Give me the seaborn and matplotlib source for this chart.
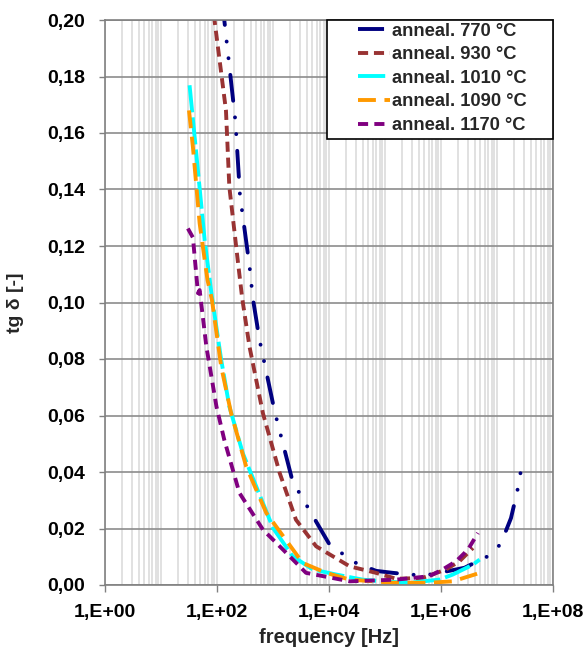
import numpy as np
import pandas as pd
import matplotlib
matplotlib.use("Agg")
import matplotlib.pyplot as plt
import seaborn as sns
from matplotlib.patches import Rectangle
from matplotlib.ticker import FixedLocator, FuncFormatter, LogLocator, NullFormatter

# log10(frequency) and tg delta for each annealing temperature
lf_770 = [2.05, 2.13, 2.33, 2.41, 2.58, 2.64, 2.76, 3.03, 3.35, 4.01, 4.46, 4.84, 5.14, 5.44, 5.71, 5.97, 6.42, 6.90, 7.07, 7.25, 7.31, 7.37, 7.46]
tg_770 = [0.215, 0.200, 0.164, 0.138, 0.113, 0.1015, 0.0867, 0.0614, 0.0367, 0.0143, 0.0080, 0.0050, 0.0043, 0.0037, 0.0034, 0.0043, 0.0061, 0.0108, 0.0147, 0.0237, 0.0288, 0.0340, 0.0443]

lf_930 = [1.90, 1.955, 2.16, 2.22, 2.37, 2.45, 2.58, 2.82, 3.12, 3.41, 3.77, 4.37, 4.84, 5.20, 5.67, 6.09, 6.33, 6.57]
tg_930 = [0.215, 0.200, 0.168, 0.141, 0.115, 0.1015, 0.0844, 0.0608, 0.0396, 0.0231, 0.0137, 0.0066, 0.0043, 0.0022, 0.0025, 0.0055, 0.0084, 0.0131]

lf_1010 = [1.51, 1.63, 1.78, 1.90, 2.075, 2.22, 2.46, 2.70, 3.00, 3.35, 3.71, 4.13, 4.60, 5.00, 5.44, 5.97, 6.21, 6.57, 6.69]
tg_1010 = [0.1769, 0.1527, 0.122, 0.1033, 0.0797, 0.0632, 0.0467, 0.0349, 0.0202, 0.0102, 0.0055, 0.0037, 0.0019, 0.0012, 0.0008, 0.0019, 0.0037, 0.0072, 0.0090]

lf_1090 = [1.50, 1.57, 1.69, 1.83, 1.91, 2.075, 2.25, 2.52, 2.88, 3.53, 3.95, 4.37, 5.14, 5.79, 6.21, 6.60, 6.69]
tg_1090 = [0.168, 0.155, 0.128, 0.108, 0.1009, 0.0773, 0.061, 0.042, 0.0255, 0.0078, 0.0043, 0.0019, 0.0008, 0.0008, 0.0013, 0.0037, 0.0043]

lf_1170 = [1.48, 1.57, 1.66, 1.69, 1.81, 1.99, 2.13, 2.40, 2.82, 3.18, 3.59, 4.37, 5.20, 5.79, 6.03, 6.27, 6.48, 6.66]
tg_1170 = [0.1262, 0.123, 0.1033, 0.1044, 0.0844, 0.0632, 0.0514, 0.0326, 0.0196, 0.0125, 0.0043, 0.0013, 0.0019, 0.0031, 0.0055, 0.0084, 0.0125, 0.0184]

labels = ["anneal. 770 °C", "anneal. 930 °C", "anneal. 1010 °C", "anneal. 1090 °C", "anneal. 1170 °C"]
series = [(lf_770, tg_770), (lf_930, tg_930), (lf_1010, tg_1010), (lf_1090, tg_1090), (lf_1170, tg_1170)]
colors = ["#000080", "#993333", "#00FFFF", "#FF9900", "#800080"]
dashes = [(6.7, 4.3, 0.01, 4.3, 0.01, 4.3), (2.6, 1.5), (7.0, 1.3), (4.6, 2.2), (2.6, 1.6)]

frames = []
for lab, (lf, tg) in zip(labels, series):
    frames.append(pd.DataFrame({"freq": 10.0 ** np.array(lf), "tg": tg, "series": lab}))
df = pd.concat(frames, ignore_index=True)

sns.set_style("white")
plt.rcParams["font.family"] = ["Liberation Sans", "DejaVu Sans"]
plt.rcParams["font.weight"] = "bold"

fig = plt.figure(figsize=(5.87, 6.53), dpi=100)
ax = fig.add_axes([105 / 587, 68 / 653, (553 - 105) / 587, (585 - 20) / 653])

sns.lineplot(data=df, x="freq", y="tg", hue="series", style="series",
             hue_order=labels, style_order=labels,
             palette=dict(zip(labels, colors)), dashes=dict(zip(labels, dashes)),
             linewidth=2.8, sort=False, estimator=None, ax=ax, legend=True)

# dash-dot-dot curve gets rounded caps so its dots show as dots
ax.get_lines()[0].set_dash_capstyle("round")

ax.set_xscale("log")
ax.set_xlim(1, 1e8)
ax.set_ylim(0, 0.2)

ax.xaxis.set_major_locator(FixedLocator([1, 1e2, 1e4, 1e6, 1e8]))
ax.xaxis.set_minor_locator(LogLocator(base=10, subs=np.arange(1, 10), numticks=100))
ax.xaxis.set_minor_formatter(NullFormatter())
ax.xaxis.set_major_formatter(FuncFormatter(lambda v, p: "1,E+%02d" % int(round(np.log10(v)))))
ax.yaxis.set_major_locator(FixedLocator(np.arange(0, 0.2001, 0.02)))
ax.yaxis.set_major_formatter(FuncFormatter(lambda v, p: ("%.2f" % v).replace(".", ",")))

ax.grid(which="minor", axis="x", color="#D9D9D9", linewidth=1.1)
ax.grid(which="major", axis="x", color="#D9D9D9", linewidth=1.1)
ax.grid(which="major", axis="y", color="#8C8C8C", linewidth=1.2)
ax.set_axisbelow(True)

ax.tick_params(axis="x", which="major", direction="out", length=5, width=1, color="#808080",
               labelsize=14, pad=8.5, labelcolor="black")
ax.tick_params(axis="x", which="minor", length=0)
ax.tick_params(axis="y", which="major", direction="out", length=4.3, width=1, color="#808080",
               labelsize=14, pad=10, labelcolor="black")
ax.tick_params(left=True, bottom=True)
for lab in ax.get_xticklabels() + ax.get_yticklabels():
    lab.set_fontweight("bold")

for side in ["top", "right", "left", "bottom"]:
    ax.spines[side].set_color("#808080")
    ax.spines[side].set_linewidth(1.2)

ax.set_xlabel("frequency [Hz]", fontsize=14.5, fontweight="bold", labelpad=5)
ax.set_ylabel("tg δ [-]", fontsize=14, fontweight="bold", labelpad=17)

# legend box spanning the upper right corner of the plot area
x0 = (327 - 105) / 448
y0 = (585 - 139) / 565
ax.add_patch(Rectangle((x0, y0), 1 - x0, 1 - y0, transform=ax.transAxes,
                       facecolor="white", edgecolor="black", linewidth=1.2,
                       zorder=4.5, clip_on=False))
leg = ax.legend(loc="center", bbox_to_anchor=((x0 + 1) / 2 + 0.005, (y0 + 1) / 2 + 0.002),
                frameon=False, handlelength=1.75, handletextpad=0.08,
                labelspacing=0.36, borderpad=0.1,
                prop={"weight": "bold", "size": 13.2})
leg.set_zorder(5)
for h in leg.get_lines():
    h.set_dash_capstyle("butt")

fig.savefig("out.png", dpi=100)
